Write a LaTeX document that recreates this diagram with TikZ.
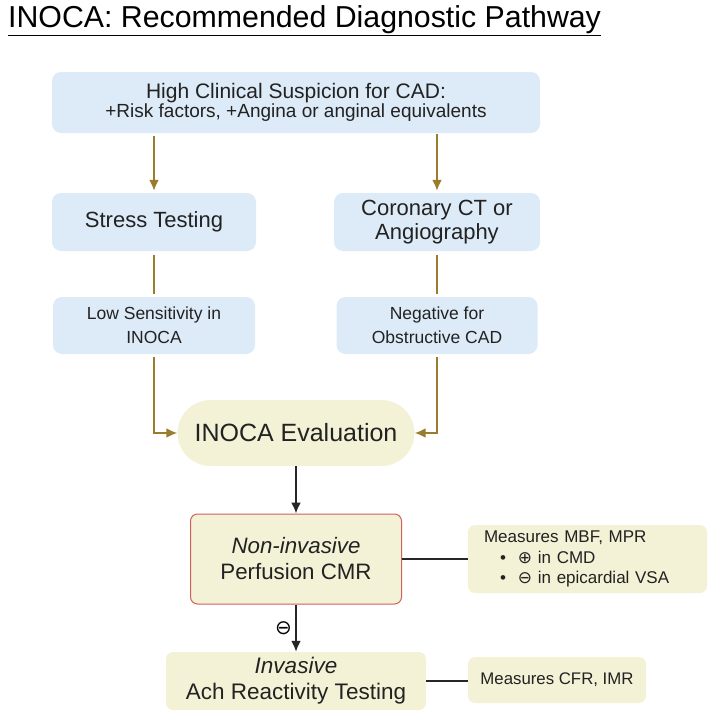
\documentclass[tikz,border=0pt]{standalone}
\usepackage{fontspec}
\setmainfont{Liberation Sans}
\newfontfamily\symfont{DejaVu Sans}
\usepackage{tikz}
\usetikzlibrary{calc,arrows,arrows.meta}

\definecolor{boxblue}{HTML}{DDEAF7}
\definecolor{boxyellow}{HTML}{F4F2D6}
\definecolor{arrowgold}{HTML}{9A7D2C}
\definecolor{borderred}{HTML}{D0605C}
\definecolor{textgray}{HTML}{222222}

\newcommand{\sgn}[1]{{\symfont #1}}

\tikzset{
  bluebox/.style={rectangle,rounded corners=9pt,fill=boxblue,align=center,inner sep=2pt,text=textgray},
  yellowbox/.style={rectangle,rounded corners=7pt,fill=boxyellow,align=center,inner sep=2pt,text=textgray},
  goldline/.style={draw=arrowgold,line width=2pt},
  darkline/.style={draw=black!85,line width=2pt},
  tip/.style={-{Latex[length=11pt,width=10pt]}}
}

\begin{document}
\begin{tikzpicture}[x=1pt,y=-1pt]
              \useasboundingbox (0,0) rectangle (713,717);
              \node[anchor=west,font=\fontsize{30.3}{36}\selectfont,inner sep=0pt](title)at(8,21){\underline{INOCA: Recommended Diagnostic Pathway}};
              % blue boxes
              \node[bluebox,minimum width=488pt,minimum height=61pt](susp)at(296,102.5){{\fontsize{21}{24}\selectfont High Clinical Suspicion for CAD:}\\{\fontsize{19}{22}\selectfont +Risk factors, +Angina or anginal equivalents}};
              \node[bluebox,minimum width=204pt,minimum height=58pt,font=\fontsize{22}{24}\selectfont](stress)at(154,222){Stress Testing};
              \node[bluebox,minimum width=206pt,minimum height=58pt,font=\fontsize{22}{24}\selectfont](coro)at(437,222){Coronary CT or\\Angiography};
              \node[bluebox,minimum width=202pt,minimum height=57pt,font=\fontsize{17.5}{24}\selectfont](lowsens)at(154,325.5){Low Sensitivity in\\INOCA};
              \node[bluebox,minimum width=201pt,minimum height=57pt,font=\fontsize{17.5}{24}\selectfont](negative)at(437,325.5){Negative for\\Obstructive CAD};
              % yellow boxes
              \node[yellowbox,rounded corners=33pt,minimum width=237pt,minimum height=66pt,font=\fontsize{25}{28}\selectfont](eval)at(296,433){INOCA Evaluation};
              \node[yellowbox,draw=borderred,line width=1pt,minimum width=211pt,minimum height=90pt,font=\fontsize{22.3}{26}\selectfont](nonInv)at(296,559){\textit{Non-invasive}\\Perfusion CMR};
              \node[yellowbox,inner xsep=16pt,text width=207pt,minimum height=68pt,align=left,font=\fontsize{17}{20.5}\selectfont](mbf)at(587.5,559){Measures MBF, MPR\\\hspace*{16pt}\textbullet\hspace{12pt}\sgn{⊕} in CMD\\\hspace*{16pt}\textbullet\hspace{12pt}\sgn{⊖} in epicardial VSA};
              \node[yellowbox,minimum width=260pt,minimum height=58pt,font=\fontsize{22.5}{26}\selectfont](inv)at(296,681){\textit{Invasive}\\Ach Reactivity Testing};
              \node[yellowbox,minimum width=178pt,minimum height=46pt,font=\fontsize{16.8}{20}\selectfont](cfr)at(557,680){Measures CFR, IMR};
              % connectors
              \draw[goldline,tip,shorten <=3pt,shorten >=2pt](susp.south -| stress.north)--(stress.north);
              \draw[goldline,tip,shorten <=1pt,shorten >=2pt](susp.south -| coro.north)--(coro.north);
              \draw[goldline,shorten <=4pt,shorten >=3pt](stress.south)--(lowsens.north);
              \draw[goldline,shorten <=4pt,shorten >=3pt](coro.south)--(negative.north);
              \draw[goldline,tip,shorten <=3pt](lowsens.south)|-(eval.west);
              \draw[goldline,tip,shorten <=3pt](negative.south)|-(eval.east);
              \draw[darkline,tip](eval.south)--(nonInv.north);
              \draw[darkline](nonInv.east)--(mbf.west);
              \draw[darkline,tip](nonInv.south)--node[left,font=\fontsize{20}{20}\selectfont,inner sep=3pt]{\sgn{⊖}}(inv.north);
              \draw[darkline](inv.east)--(inv.east -| cfr.west);
\end{tikzpicture}
\end{document}
